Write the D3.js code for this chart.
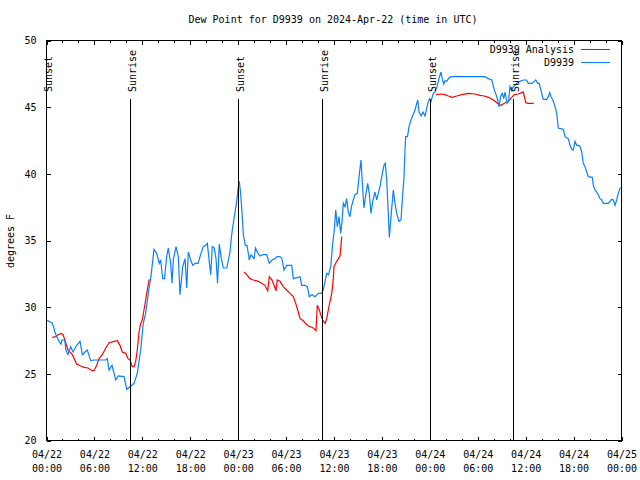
<!DOCTYPE html>
<html>
<head>
<meta charset="utf-8">
<script src="https://cdn.jsdelivr.net/npm/d3@7"></script>
<style>
  html, body { margin: 0; padding: 0; background: #fff; }
  svg { display: block; }
  text { font-family: "DejaVu Sans Mono", "Liberation Mono", monospace; font-size: 10px; fill: #000; }
</style>
</head>
<body>
<svg id="chart" width="640" height="480"></svg>
<script>
// ---------------- DATA ----------------
const titleText = "Dew Point for D9939 on 2024-Apr-22 (time in UTC)";
const yAxisLabel = "degrees F";
const seriesNames = ["D9939 Analysis", "D9939"];
const startUTC = Date.UTC(2024, 3, 22, 0, 0);   // 2024-04-22 00:00 UTC
const endUTC   = Date.UTC(2024, 3, 25, 0, 0);   // 2024-04-25 00:00 UTC
const yTickValues = [20, 25, 30, 35, 40, 45, 50];

// Sun events, hours after 04/22 00:00 UTC
const sunEventNames = ["Sunset", "Sunrise", "Sunset", "Sunrise", "Sunset", "Sunrise"];
const sunEventHours = [0.05, 10.56, 24.08, 34.60, 48.12, 58.52];

// D9939 observations (hours after start, deg F)
const obsHours = [0,0.38,0.75,0.94,1.16,1.63,1.88,2.00,2.34,2.50,2.75,3.09,3.38,3.84,4.26,4.55,4.88,5.17,5.60,6.01,
  6.76,7.48,7.68,7.89,8.26,8.73,9.02,9.77,10.11,10.52,11.02,11.43,11.86,12.18,12.48,12.81,13.19,13.52,13.86,14.19,
  14.36,14.61,14.84,15.11,15.31,15.61,15.78,15.94,16.28,16.57,16.78,17.12,17.41,17.62,17.82,18.12,18.37,18.66,19.03,19.41,
  19.70,20.00,20.20,20.35,20.62,20.82,21.07,21.29,21.48,21.70,21.91,22.20,22.63,23.04,23.25,23.54,23.88,24.08,24.21,24.38,
  24.54,24.71,24.96,25.17,25.46,25.67,26.05,26.23,26.55,26.80,27.17,27.64,27.96,28.30,28.68,28.93,29.30,29.55,29.80,30.14,
  30.77,30.97,31.81,32.02,32.43,32.72,32.97,33.31,33.68,34.10,34.52,34.72,35.15,35.37,35.65,35.90,36.10,36.28,36.48,36.69,
  36.90,37.07,37.23,37.44,37.65,37.85,38.07,38.25,38.48,38.69,38.98,39.23,39.44,39.61,39.82,40.07,40.28,40.48,40.70,40.91,
  41.20,41.41,41.61,41.82,42.04,42.32,42.49,42.66,42.86,42.99,43.20,43.49,43.70,43.92,44.20,44.45,44.62,44.83,44.95,45.04,
  45.27,45.45,45.70,45.87,46.21,46.42,46.55,46.71,46.96,47.21,47.46,47.62,47.80,48.05,48.21,48.50,48.71,48.96,49.21,49.46,
  49.62,49.80,49.96,50.18,50.38,50.71,54.97,55.39,55.81,56.14,56.31,56.56,56.72,56.94,57.14,57.31,57.48,57.73,57.92,58.10,
  58.32,58.52,58.73,58.94,59.36,59.77,60.19,60.39,60.86,61.14,61.32,61.57,61.77,62.07,62.27,62.70,62.90,63.07,63.24,63.53,
  63.74,63.95,64.15,64.78,64.99,65.40,65.62,65.83,66.03,66.24,66.45,66.66,66.87,67.08,67.28,67.49,67.71,67.91,68.41,68.53,
  68.75,68.96,69.16,69.37,69.58,69.79,70.41,70.62,70.84,71.04,71.25,71.46,71.66,71.88,72.00];
const obsValues = [29.0,28.9,28.8,28.5,28.0,27.4,27.2,27.5,27.5,26.75,26.4,27.0,26.6,27.1,27.4,26.4,26.6,26.75,25.95,26.0,
  26.0,26.0,26.1,25.25,25.6,24.5,24.8,24.75,23.8,24.0,24.25,25.0,26.75,28.75,29.5,31.0,32.5,34.3,34.0,33.25,
  33.5,32.1,32.1,33.75,34.4,33.25,31.75,33.5,34.5,33.75,30.9,33.0,33.6,31.4,34.1,33.5,33.1,33.25,33.25,34.0,
  34.5,34.6,34.75,33.9,32.4,34.5,34.4,33.6,31.75,34.7,33.75,32.9,32.9,34.1,35.4,36.6,37.9,39.0,39.4,38.4,
  37.1,35.4,34.6,34.6,33.5,33.9,33.6,34.4,34.0,33.8,33.9,33.9,33.25,33.5,33.6,33.75,33.75,33.6,32.75,33.1,
  33.1,32.1,32.25,31.6,31.6,31.5,30.75,30.9,30.75,31.0,31.0,31.25,32.5,32.4,33.0,34.75,35.75,37.25,36.0,36.75,
  35.5,36.4,37.75,37.5,38.1,37.1,36.75,37.5,38.0,38.4,38.5,39.9,41.0,39.25,37.4,38.5,39.25,38.5,37.0,37.9,
  38.6,38.0,38.5,39.0,39.75,40.6,40.75,39.5,37.0,35.2,36.75,38.75,37.75,37.0,36.4,36.5,38.0,39.75,41.75,42.75,
  42.75,43.5,44.0,44.25,44.75,45.25,45.5,44.6,44.3,44.6,44.3,44.75,45.25,45.6,45.4,46.0,46.1,46.5,47.1,47.6,
  47.1,46.7,46.95,46.9,47.1,47.25,47.25,47.1,47.0,46.25,46.0,45.5,45.0,45.8,46.0,45.6,46.1,45.25,45.4,46.5,
  46.2,46.5,46.6,46.75,46.9,47.0,47.0,46.75,46.75,46.9,47.0,46.75,46.75,46.0,45.55,45.55,45.75,46.05,45.75,45.4,
  45.0,44.5,43.4,43.3,42.75,42.6,42.1,41.8,41.75,42.4,42.1,42.1,42.0,41.6,40.75,40.5,40.1,39.75,39.7,39.1,
  38.75,38.6,38.4,38.1,38.0,37.75,37.75,37.9,38.05,38.0,37.6,38.0,38.5,38.9,38.9];

// D9939 Analysis (hours after start, deg F); null marks a gap
const anaHours = [0.79,1.25,1.50,1.92,2.13,2.42,2.75,3.29,3.84,4.35,4.76,5.26,5.80,6.01,6.35,6.64,7.05,7.48,7.89,8.51,
  8.93,9.27,9.55,9.98,10.27,10.52,10.81,11.02,11.23,11.43,11.65,11.86,12.06,12.27,12.48,12.68,12.90,13.19,
  18.0,
  24.79,25.13,25.54,25.96,26.58,27.01,27.42,27.76,27.96,28.30,28.55,28.80,28.96,29.30,29.71,30.14,30.55,30.97,31.27,31.59,
  31.81,32.22,32.56,32.85,33.47,33.81,33.97,34.22,34.40,34.65,34.94,35.15,35.35,35.56,35.78,35.98,36.06,36.40,36.82,37.03,
  42.0,
  48.84,49.55,49.96,50.38,50.88,51.43,52.05,52.88,53.72,54.35,54.88,55.39,55.89,56.22,56.64,56.97,57.39,57.89,58.32,58.64,
  59.14,59.57,59.77,59.90,60.07,60.39,61.07];
const anaValues = [27.7,27.75,27.9,28.0,27.9,27.4,26.75,26.4,25.7,25.55,25.45,25.4,25.2,25.2,25.6,26.1,26.4,26.9,27.3,27.4,
  27.45,27.1,26.6,26.5,26.1,26.0,25.5,25.5,25.9,26.75,28.1,28.75,29.0,29.75,30.5,31.25,32.0,32.0,
  null,
  32.6,32.4,32.1,32.0,31.9,31.75,31.6,31.2,32.25,32.0,31.6,31.2,32.0,31.9,31.5,31.25,31.0,30.75,30.25,29.6,
  29.1,28.95,28.7,28.55,28.4,28.2,30.1,29.75,29.4,29.0,28.75,29.1,29.75,30.4,31.0,32.1,33.0,33.4,33.8,35.25,
  null,
  45.9,45.95,45.9,45.8,45.7,45.8,45.9,46.0,45.95,45.85,45.8,45.7,45.55,45.4,45.2,45.1,45.25,45.4,45.7,45.9,
  45.95,46.05,46.1,45.75,45.3,45.25,45.25];

const seriesColors = ["#ff0000", "#0a80ff"];

// ---------------- CHART ----------------
const svg = d3.select("#chart");
const L = 46, R = 621, T = 40, B = 440;
const hourMs = 3600 * 1000;
const toDate = h => new Date(startUTC + h * hourMs);

const x = d3.scaleUtc().domain([new Date(startUTC), new Date(endUTC)]).range([L, R]);
const y = d3.scaleLinear().domain([20, 50]).range([B, T]);

// Title
svg.append("text").attr("x", 333).attr("y", 23).attr("text-anchor", "middle").text(titleText);

// Y label
svg.append("text").attr("transform", "translate(14,241) rotate(-90)")
  .attr("text-anchor", "middle").text(yAxisLabel);

const g = svg.append("g");

// Frame
g.append("rect").attr("x", L + 0.5).attr("y", T + 0.5).attr("width", R - L).attr("height", B - T)
  .attr("fill", "none").attr("stroke", "#000").attr("stroke-width", 1).attr("shape-rendering", "crispEdges");

// X ticks
const majorTicks = d3.utcHour.every(6).range(new Date(startUTC), new Date(endUTC + 1));
const minorTicks = d3.utcHour.every(2).range(new Date(startUTC), new Date(endUTC + 1))
  .filter(d => d.getUTCHours() % 6 !== 0);
const fmtDate = d3.utcFormat("%m/%d"), fmtTime = d3.utcFormat("%H:%M");

const xAxisB = d3.axisBottom(x).tickValues(majorTicks).tickSize(-4).tickPadding(10)
  .tickFormat(d => "");
const xb = g.append("g").attr("transform", `translate(0.5,${B + 0.5})`).call(xAxisB);
xb.select(".domain").remove();
xb.selectAll("line").attr("stroke", "#000").attr("shape-rendering", "crispEdges");
xb.selectAll(".tick").each(function(d) {
  const t = d3.select(this).append("text").attr("text-anchor", "middle").attr("fill", "#000");
  t.append("tspan").attr("x", 0).attr("y", 17).text(fmtDate(d));
  t.append("tspan").attr("x", 0).attr("y", 31).text(fmtTime(d));
});
const xbm = g.append("g").attr("transform", `translate(0.5,${B + 0.5})`)
  .call(d3.axisBottom(x).tickValues(minorTicks).tickSize(-2).tickFormat(""));
xbm.select(".domain").remove();
xbm.selectAll("line").attr("stroke", "#000").attr("shape-rendering", "crispEdges");

const xt = g.append("g").attr("transform", `translate(0.5,${T + 0.5})`)
  .call(d3.axisTop(x).tickValues(majorTicks).tickSize(-4).tickFormat(""));
xt.select(".domain").remove();
xt.selectAll("line").attr("stroke", "#000").attr("shape-rendering", "crispEdges");
const xtm = g.append("g").attr("transform", `translate(0.5,${T + 0.5})`)
  .call(d3.axisTop(x).tickValues(minorTicks).tickSize(-2).tickFormat(""));
xtm.select(".domain").remove();
xtm.selectAll("line").attr("stroke", "#000").attr("shape-rendering", "crispEdges");

// Y ticks
const yl = g.append("g").attr("transform", `translate(${L + 0.5},0.5)`)
  .call(d3.axisLeft(y).tickValues(yTickValues).tickSize(-4).tickPadding(10).tickFormat(d3.format("d")));
yl.select(".domain").remove();
yl.selectAll("line").attr("stroke", "#000").attr("shape-rendering", "crispEdges");
yl.selectAll("text").attr("font-family", null).attr("font-size", null).attr("fill", "#000");
yl.attr("font-family", null).attr("font-size", null);
const yr = g.append("g").attr("transform", `translate(${R + 0.5},0.5)`)
  .call(d3.axisRight(y).tickValues(yTickValues).tickSize(-4).tickFormat(""));
yr.select(".domain").remove();
yr.selectAll("line").attr("stroke", "#000").attr("shape-rendering", "crispEdges");
xb.attr("font-family", null).attr("font-size", null);

// Data lines
const line = d3.line()
  .defined(d => d.v !== null)
  .x(d => x(toDate(d.h)))
  .y(d => y(d.v));

const anaData = anaHours.map((h, i) => ({h, v: anaValues[i]}));
const obsData = obsHours.map((h, i) => ({h, v: obsValues[i]}));

g.append("path").datum(anaData).attr("d", line)
  .attr("fill", "none").attr("stroke", seriesColors[0]).attr("stroke-width", 1.2);
g.append("path").datum(obsData).attr("d", line)
  .attr("fill", "none").attr("stroke", seriesColors[1]).attr("stroke-width", 1.2);

// Sun events
sunEventHours.forEach((h, i) => {
  const px = Math.round(x(toDate(h))) + 0.5;
  g.append("line").attr("x1", px).attr("x2", px).attr("y1", 99).attr("y2", B)
    .attr("stroke", "#000").attr("stroke-width", 1).attr("shape-rendering", "crispEdges");
  g.append("text").attr("transform", `translate(${px + 5},92) rotate(-90)`)
    .attr("text-anchor", "start").text(sunEventNames[i]);
});

// Legend
seriesNames.forEach((name, i) => {
  const ly = 49.5 + i * 13;
  g.append("text").attr("x", 574).attr("y", ly + 3.5).attr("text-anchor", "end").text(name);
  g.append("line").attr("x1", 581).attr("x2", 610).attr("y1", ly).attr("y2", ly)
    .attr("stroke", seriesColors[i]).attr("stroke-width", 1).attr("shape-rendering", "crispEdges");
});
</script>
</body>
</html>
